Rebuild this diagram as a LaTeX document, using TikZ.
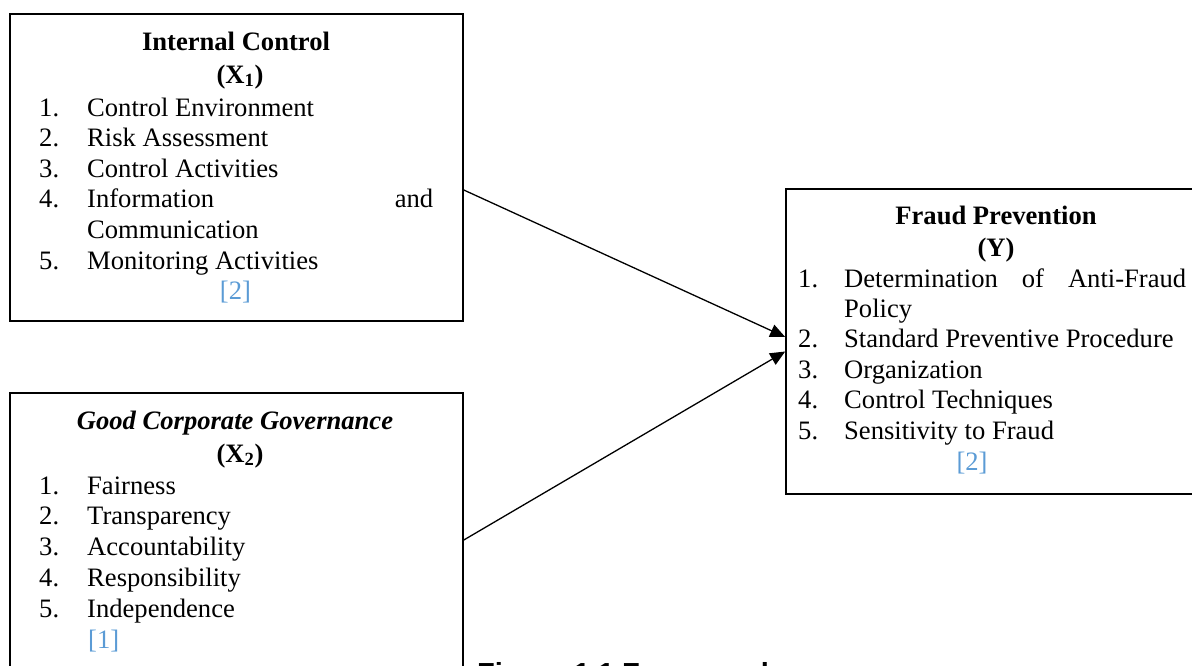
\documentclass[tikz,border=0pt]{standalone}
\usepackage{fontspec}
\setmainfont{Liberation Serif}
\newfontfamily\capfont{Liberation Sans}
\usetikzlibrary{arrows.meta}
\definecolor{citeblue}{RGB}{91,155,213}
\tikzset{
  box/.style={draw, line width=1.6pt, rectangle, inner sep=0pt},
  txt/.style={inner sep=0pt, anchor=base west, font=\fontsize{26.6}{30}\selectfont},
  ctr/.style={inner sep=0pt, anchor=base, font=\fontsize{26.6}{30}\selectfont},
  cite/.style={text=citeblue},
  arr/.style={line width=1.3pt, -{Triangle[length=15pt,width=13pt]}}
}
\begin{document}
\begin{tikzpicture}[x=1pt,y=-1pt]
\useasboundingbox (0,0) rectangle (1192,665);
\clip (0,0) rectangle (1192,665);
% boxes
\node[box, minimum width=453pt, minimum height=307pt] (b1) at (236.5,167.5) {};
\node[box, minimum width=453pt, minimum height=320pt] (b2) at (236.5,553) {};
\node[box, minimum width=470pt, minimum height=305pt] (b3) at (1021,341.5) {};
% box 1 text
\node[ctr] (t1) at (236,50) {\textbf{Internal Control}};
\node[ctr] (t1x) at (240,83) {\textbf{(X\textsubscript{1})}};
\node[txt] (n11) at (39,116) {1.};
\node[txt] (i11) at (87,116) {Control Environment};
\node[txt] (n12) at (39,146.6) {2.};
\node[txt] (i12) at (87,146.6) {Risk Assessment};
\node[txt] (n13) at (39,177.2) {3.};
\node[txt] (i13) at (87,177.2) {Control Activities};
\node[txt] (n14) at (39,207.8) {4.};
\node[txt] (i14) at (87,207.8) {\makebox[346pt][s]{Information and}};
\node[txt] (i14b) at (87,238.4) {Communication};
\node[txt] (n15) at (39,269) {5.};
\node[txt] (i15) at (87,269) {Monitoring Activities};
\node[ctr, cite] (c1) at (235.5,299.6) {[2]};
% box 2 text
\node[ctr] (t2) at (235,429) {\textbf{\textit{Good Corporate Governance}}};
\node[ctr] (t2x) at (240,462) {\textbf{(X\textsubscript{2})}};
\node[txt] (n21) at (39,494) {1.};
\node[txt] (i21) at (87,494) {Fairness};
\node[txt] (n22) at (39,524.8) {2.};
\node[txt] (i22) at (87,524.8) {Transparency};
\node[txt] (n23) at (39,555.6) {3.};
\node[txt] (i23) at (87,555.6) {Accountability};
\node[txt] (n24) at (39,586.4) {4.};
\node[txt] (i24) at (87,586.4) {Responsibility};
\node[txt] (n25) at (39,617.2) {5.};
\node[txt] (i25) at (87,617.2) {Independence};
\node[txt, cite] (c2) at (88,648) {[1]};
% box 3 text
\node[ctr] (t3) at (996,224) {\textbf{Fraud Prevention}};
\node[ctr] (t3y) at (996,256) {\textbf{(Y)}};
\node[txt] (n31) at (798,287) {1.};
\node[txt] (i31) at (844,287) {\makebox[342pt][s]{Determination of Anti-Fraud}};
\node[txt] (i31b) at (844,317.4) {Policy};
\node[txt] (n32) at (798,347.8) {2.};
\node[txt] (i32) at (844,347.8) {Standard Preventive Procedure};
\node[txt] (n33) at (798,378.2) {3.};
\node[txt] (i33) at (844,378.2) {Organization};
\node[txt] (n34) at (798,408.6) {4.};
\node[txt] (i34) at (844,408.6) {Control Techniques};
\node[txt] (n35) at (798,439) {5.};
\node[txt] (i35) at (844,439) {Sensitivity to Fraud};
\node[ctr, cite] (c3) at (972,470) {[2]};
% caption (cut off at the bottom, as in the reference)
\node[inner sep=0pt, anchor=base west, font=\capfont\bfseries\fontsize{29}{32}\selectfont] (cap) at (477,683.5) {Figure 1.1 Framework};
% connectors
\draw[arr] (b1.east |- 0,190) -- (b3.west |- 0,337);
\draw[arr] (b2.east |- 0,540) -- (b3.west |- 0,351.5);
\end{tikzpicture}
\end{document}
